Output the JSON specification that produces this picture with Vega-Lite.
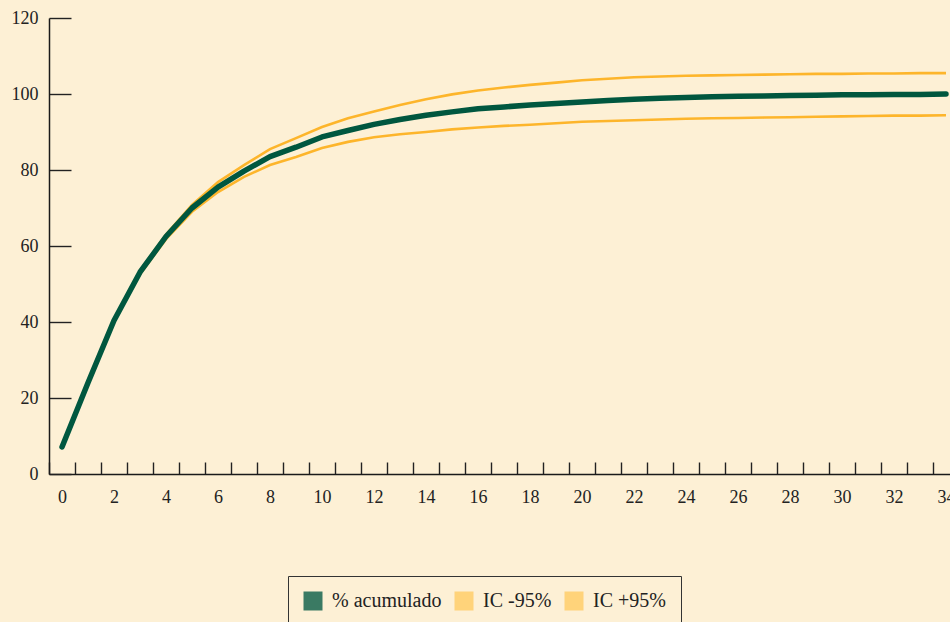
{
  "$schema": "https://vega.github.io/schema/vega-lite/v6.json",
  "width": 901,
  "height": 456,
  "autosize": {"type": "none"},
  "padding": {"left": 49, "top": 18, "right": 0, "bottom": 148},
  "background": "#FDF0D5",
  "config": {
    "view": {"stroke": null},
    "font": "Liberation Serif",
    "axis": {
      "grid": false,
      "title": null,
      "labelFont": "Liberation Serif",
      "labelFontSize": 18,
      "labelColor": "#222222",
      "domainColor": "#1a1a1a",
      "domainWidth": 1.5,
      "tickColor": "#222222",
      "tickWidth": 1.4
    },
    "legend": {
      "labelFont": "Liberation Serif",
      "labelFontSize": 20,
      "labelColor": "#222222"
    }
  },
  "datasets": {
    "acum": [
      {"t": 0, "serie": "% acumulado", "valor": 7.1},
      {"t": 1, "serie": "% acumulado", "valor": 24.0},
      {"t": 2, "serie": "% acumulado", "valor": 40.4},
      {"t": 3, "serie": "% acumulado", "valor": 53.1},
      {"t": 4, "serie": "% acumulado", "valor": 62.5},
      {"t": 5, "serie": "% acumulado", "valor": 70.0},
      {"t": 6, "serie": "% acumulado", "valor": 75.5},
      {"t": 7, "serie": "% acumulado", "valor": 79.7},
      {"t": 8, "serie": "% acumulado", "valor": 83.5},
      {"t": 9, "serie": "% acumulado", "valor": 86.0},
      {"t": 10, "serie": "% acumulado", "valor": 88.7},
      {"t": 11, "serie": "% acumulado", "valor": 90.4},
      {"t": 12, "serie": "% acumulado", "valor": 92.0},
      {"t": 13, "serie": "% acumulado", "valor": 93.3},
      {"t": 14, "serie": "% acumulado", "valor": 94.4},
      {"t": 15, "serie": "% acumulado", "valor": 95.3},
      {"t": 16, "serie": "% acumulado", "valor": 96.1},
      {"t": 17, "serie": "% acumulado", "valor": 96.6},
      {"t": 18, "serie": "% acumulado", "valor": 97.1},
      {"t": 19, "serie": "% acumulado", "valor": 97.5},
      {"t": 20, "serie": "% acumulado", "valor": 97.9},
      {"t": 21, "serie": "% acumulado", "valor": 98.3},
      {"t": 22, "serie": "% acumulado", "valor": 98.6},
      {"t": 23, "serie": "% acumulado", "valor": 98.9},
      {"t": 24, "serie": "% acumulado", "valor": 99.1},
      {"t": 25, "serie": "% acumulado", "valor": 99.3},
      {"t": 26, "serie": "% acumulado", "valor": 99.4},
      {"t": 27, "serie": "% acumulado", "valor": 99.5},
      {"t": 28, "serie": "% acumulado", "valor": 99.6},
      {"t": 29, "serie": "% acumulado", "valor": 99.7},
      {"t": 30, "serie": "% acumulado", "valor": 99.8},
      {"t": 31, "serie": "% acumulado", "valor": 99.8},
      {"t": 32, "serie": "% acumulado", "valor": 99.9},
      {"t": 33, "serie": "% acumulado", "valor": 99.9},
      {"t": 34, "serie": "% acumulado", "valor": 100.0}
    ],
    "ic": [
      {"t": 0, "serie": "IC -95%", "valor": 7.1},
      {"t": 1, "serie": "IC -95%", "valor": 23.8},
      {"t": 2, "serie": "IC -95%", "valor": 40.1},
      {"t": 3, "serie": "IC -95%", "valor": 52.6},
      {"t": 4, "serie": "IC -95%", "valor": 61.8},
      {"t": 5, "serie": "IC -95%", "valor": 69.0},
      {"t": 6, "serie": "IC -95%", "valor": 74.2},
      {"t": 7, "serie": "IC -95%", "valor": 78.2},
      {"t": 8, "serie": "IC -95%", "valor": 81.3},
      {"t": 9, "serie": "IC -95%", "valor": 83.4},
      {"t": 10, "serie": "IC -95%", "valor": 85.8},
      {"t": 11, "serie": "IC -95%", "valor": 87.4},
      {"t": 12, "serie": "IC -95%", "valor": 88.6},
      {"t": 13, "serie": "IC -95%", "valor": 89.4},
      {"t": 14, "serie": "IC -95%", "valor": 90.0},
      {"t": 15, "serie": "IC -95%", "valor": 90.7},
      {"t": 16, "serie": "IC -95%", "valor": 91.2},
      {"t": 17, "serie": "IC -95%", "valor": 91.6},
      {"t": 18, "serie": "IC -95%", "valor": 91.9},
      {"t": 19, "serie": "IC -95%", "valor": 92.3},
      {"t": 20, "serie": "IC -95%", "valor": 92.7},
      {"t": 21, "serie": "IC -95%", "valor": 92.9},
      {"t": 22, "serie": "IC -95%", "valor": 93.1},
      {"t": 23, "serie": "IC -95%", "valor": 93.3},
      {"t": 24, "serie": "IC -95%", "valor": 93.5},
      {"t": 25, "serie": "IC -95%", "valor": 93.6},
      {"t": 26, "serie": "IC -95%", "valor": 93.7},
      {"t": 27, "serie": "IC -95%", "valor": 93.8},
      {"t": 28, "serie": "IC -95%", "valor": 93.9},
      {"t": 29, "serie": "IC -95%", "valor": 94.0},
      {"t": 30, "serie": "IC -95%", "valor": 94.1},
      {"t": 31, "serie": "IC -95%", "valor": 94.2},
      {"t": 32, "serie": "IC -95%", "valor": 94.3},
      {"t": 33, "serie": "IC -95%", "valor": 94.3},
      {"t": 34, "serie": "IC -95%", "valor": 94.4},
      {"t": 0, "serie": "IC +95%", "valor": 7.1},
      {"t": 1, "serie": "IC +95%", "valor": 24.2},
      {"t": 2, "serie": "IC +95%", "valor": 40.7},
      {"t": 3, "serie": "IC +95%", "valor": 53.5},
      {"t": 4, "serie": "IC +95%", "valor": 63.0},
      {"t": 5, "serie": "IC +95%", "valor": 70.8},
      {"t": 6, "serie": "IC +95%", "valor": 76.8},
      {"t": 7, "serie": "IC +95%", "valor": 81.3},
      {"t": 8, "serie": "IC +95%", "valor": 85.5},
      {"t": 9, "serie": "IC +95%", "valor": 88.4},
      {"t": 10, "serie": "IC +95%", "valor": 91.3},
      {"t": 11, "serie": "IC +95%", "valor": 93.6},
      {"t": 12, "serie": "IC +95%", "valor": 95.4},
      {"t": 13, "serie": "IC +95%", "valor": 97.1},
      {"t": 14, "serie": "IC +95%", "valor": 98.6},
      {"t": 15, "serie": "IC +95%", "valor": 99.9},
      {"t": 16, "serie": "IC +95%", "valor": 100.9},
      {"t": 17, "serie": "IC +95%", "valor": 101.7},
      {"t": 18, "serie": "IC +95%", "valor": 102.4},
      {"t": 19, "serie": "IC +95%", "valor": 103.0},
      {"t": 20, "serie": "IC +95%", "valor": 103.6},
      {"t": 21, "serie": "IC +95%", "valor": 104.0},
      {"t": 22, "serie": "IC +95%", "valor": 104.4},
      {"t": 23, "serie": "IC +95%", "valor": 104.6},
      {"t": 24, "serie": "IC +95%", "valor": 104.8},
      {"t": 25, "serie": "IC +95%", "valor": 104.9},
      {"t": 26, "serie": "IC +95%", "valor": 105.0},
      {"t": 27, "serie": "IC +95%", "valor": 105.1},
      {"t": 28, "serie": "IC +95%", "valor": 105.2},
      {"t": 29, "serie": "IC +95%", "valor": 105.3},
      {"t": 30, "serie": "IC +95%", "valor": 105.3},
      {"t": 31, "serie": "IC +95%", "valor": 105.4},
      {"t": 32, "serie": "IC +95%", "valor": 105.4},
      {"t": 33, "serie": "IC +95%", "valor": 105.5},
      {"t": 34, "serie": "IC +95%", "valor": 105.5}
    ]
  },
  "layer": [
    {
      "data": {"name": "ic"},
      "mark": {"type": "line", "strokeWidth": 2.6},
      "encoding": {
        "x": {
          "field": "t", "type": "quantitative",
          "scale": {"domain": [-0.5, 34.154], "nice": false, "zero": false},
          "axis": {
            "orient": "bottom",
            "values": [-0.5, 0.5, 1.5, 2.5, 3.5, 4.5, 5.5, 6.5, 7.5, 8.5, 9.5, 10.5, 11.5, 12.5, 13.5, 14.5, 15.5, 16.5, 17.5, 18.5, 19.5, 20.5, 21.5, 22.5, 23.5, 24.5, 25.5, 26.5, 27.5, 28.5, 29.5, 30.5, 31.5, 32.5, 33.5],
            "labels": false,
            "tickSize": -12,
            "domain": true
          }
        },
        "y": {
          "field": "valor", "type": "quantitative",
          "scale": {"domain": [0, 120], "nice": false},
          "axis": {"values": [0, 20, 40, 60, 80, 100, 120], "tickSize": -22, "labelPadding": 33, "domain": true}
        },
        "detail": {"field": "serie"},
        "color": {
          "field": "serie", "type": "nominal",
          "scale": {"domain": ["% acumulado", "IC -95%", "IC +95%"], "range": ["#00573F", "#FDB52B", "#FDB52B"]},
          "legend": {
            "title": null,
            "orient": "none",
            "direction": "horizontal",
            "legendX": 239,
            "legendY": 558,
            "padding": 15,
            "strokeColor": "#333333",
            "symbolType": "square",
            "symbolSize": 361,
            "symbolStrokeWidth": 0,
            "labelOffset": 9,
            "columnPadding": 12,
            "encode": {
              "symbols": {
                "update": {
                  "fill": [{"test": "datum.value === '% acumulado'", "value": "#3A7A63"}, {"value": "#FFD37A"}],
                  "strokeWidth": {"value": 0},
                  "opacity": {"value": 1}
                }
              }
            }
          }
        }
      }
    },
    {
      "data": {"name": "acum"},
      "mark": {"type": "line", "strokeWidth": 5.5, "strokeCap": "round", "strokeJoin": "round"},
      "encoding": {
        "x": {
          "field": "t", "type": "quantitative",
          "scale": {"domain": [-0.5, 34.154], "nice": false, "zero": false},
          "axis": {
            "orient": "bottom",
            "values": [0, 2, 4, 6, 8, 10, 12, 14, 16, 18, 20, 22, 24, 26, 28, 30, 32, 34],
            "ticks": false,
            "domain": false,
            "labelPadding": 14
          }
        },
        "y": {
          "field": "valor", "type": "quantitative",
          "scale": {"domain": [0, 120], "nice": false},
          "axis": {"values": [0, 20, 40, 60, 80, 100, 120], "tickSize": -22, "labelPadding": 33, "domain": true}
        },
        "color": {
          "field": "serie", "type": "nominal",
          "scale": {"domain": ["% acumulado", "IC -95%", "IC +95%"], "range": ["#00573F", "#FDB52B", "#FDB52B"]},
          "legend": {
            "title": null,
            "orient": "none",
            "direction": "horizontal",
            "legendX": 239,
            "legendY": 558,
            "padding": 15,
            "strokeColor": "#333333",
            "symbolType": "square",
            "symbolSize": 361,
            "symbolStrokeWidth": 0,
            "labelOffset": 9,
            "columnPadding": 12,
            "encode": {
              "symbols": {
                "update": {
                  "fill": [{"test": "datum.value === '% acumulado'", "value": "#3A7A63"}, {"value": "#FFD37A"}],
                  "strokeWidth": {"value": 0},
                  "opacity": {"value": 1}
                }
              }
            }
          }
        }
      }
    }
  ],
  "resolve": {"axis": {"x": "independent"}}
}
